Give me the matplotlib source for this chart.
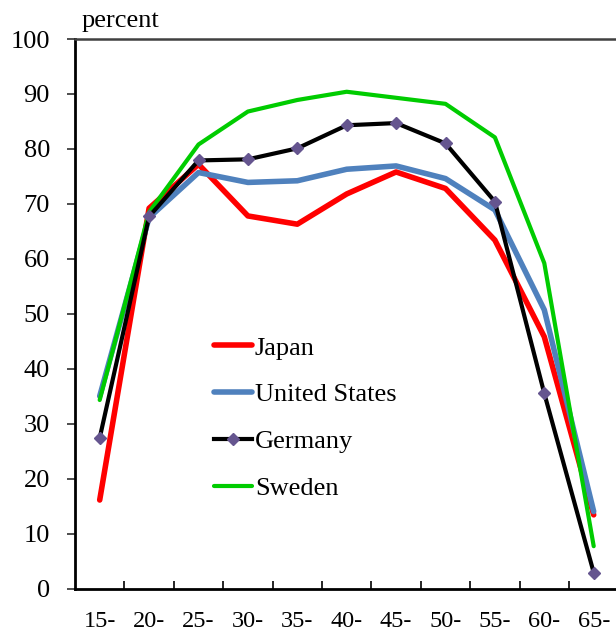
import matplotlib
matplotlib.use("Agg")
import matplotlib.pyplot as plt
from matplotlib.ticker import FixedLocator

# ---- data ----
age_groups = ["15-", "20-", "25-", "30-", "35-", "40-", "45-", "50-", "55-", "60-", "65-"]
japan = [16.1, 69.2, 77.2, 67.8, 66.3, 71.8, 75.8, 72.8, 63.4, 45.8, 13.4]
united_states = [35.0, 67.5, 75.7, 73.9, 74.2, 76.3, 76.9, 74.6, 68.9, 50.7, 14.0]
germany = [27.4, 67.7, 77.9, 78.1, 80.1, 84.3, 84.7, 81.0, 70.4, 35.5, 2.9]
sweden = [34.3, 68.5, 80.8, 86.8, 88.9, 90.4, 89.3, 88.2, 82.1, 59.2, 7.7]
y_ticks = [0, 10, 20, 30, 40, 50, 60, 70, 80, 90, 100]

plt.rcParams['font.family'] = ['Liberation Serif', 'DejaVu Serif']

fig = plt.figure(figsize=(6.16, 6.33), dpi=100)
ax = fig.add_axes([75/616, 1 - 588.5/633, (618.4 - 75)/616, (588.5 - 39)/633])

x = list(range(len(age_groups)))
ax.plot(x, japan, color='#FF0000', lw=4.0, label='Japan', solid_capstyle='round', zorder=3)
ax.plot(x, united_states, color='#4F81BD', lw=4.0, label='United States', solid_capstyle='round', zorder=3)
ax.plot(x, germany, color='black', lw=3.0, marker='D', markersize=6.5,
        markerfacecolor='#65558F', markeredgecolor='#65558F', label='Germany', zorder=4)
ax.plot(x, sweden, color='#00CC00', lw=3.0, label='Sweden', solid_capstyle='round', zorder=3)

ax.set_xlim(-0.5, len(age_groups) - 0.5)
ax.set_ylim(0, 100)

# x: boundary ticks (inward), labels at category centers
ax.xaxis.set_major_locator(FixedLocator([i + 0.5 for i in x[:-1]]))
ax.xaxis.set_minor_locator(FixedLocator(x))
ax.set_xticklabels([''] * (len(x) - 1))
ax.set_xticklabels(age_groups, minor=True)
ax.tick_params(axis='x', which='major', direction='in', length=6, width=1.2, color='black')
ax.tick_params(axis='x', which='minor', length=0, pad=16, labelsize=17.5)

ax.set_yticks(y_ticks)
ax.tick_params(axis='y', direction='out', length=6, width=1.3, color='#404040', pad=12, labelsize=19)

ax.spines['left'].set_linewidth(2.0)
ax.spines['left'].set_color('black')
ax.spines['bottom'].set_linewidth(2.0)
ax.spines['bottom'].set_color('black')
ax.spines['top'].set_linewidth(1.8)
ax.spines['top'].set_color('#404040')
ax.spines['right'].set_visible(False)

fig.text(82/616, 1 - 27/633, 'percent', fontsize=19, ha='left', va='baseline')

leg = ax.legend(loc='center left', bbox_to_anchor=((214 - 75)/(618.4 - 75), (588.5 - 418)/549.5),
                frameon=False, fontsize=19, handlelength=1.45, handletextpad=0.1,
                labelspacing=0.88, borderpad=0, borderaxespad=0)

fig.savefig('out.png', dpi=100)
